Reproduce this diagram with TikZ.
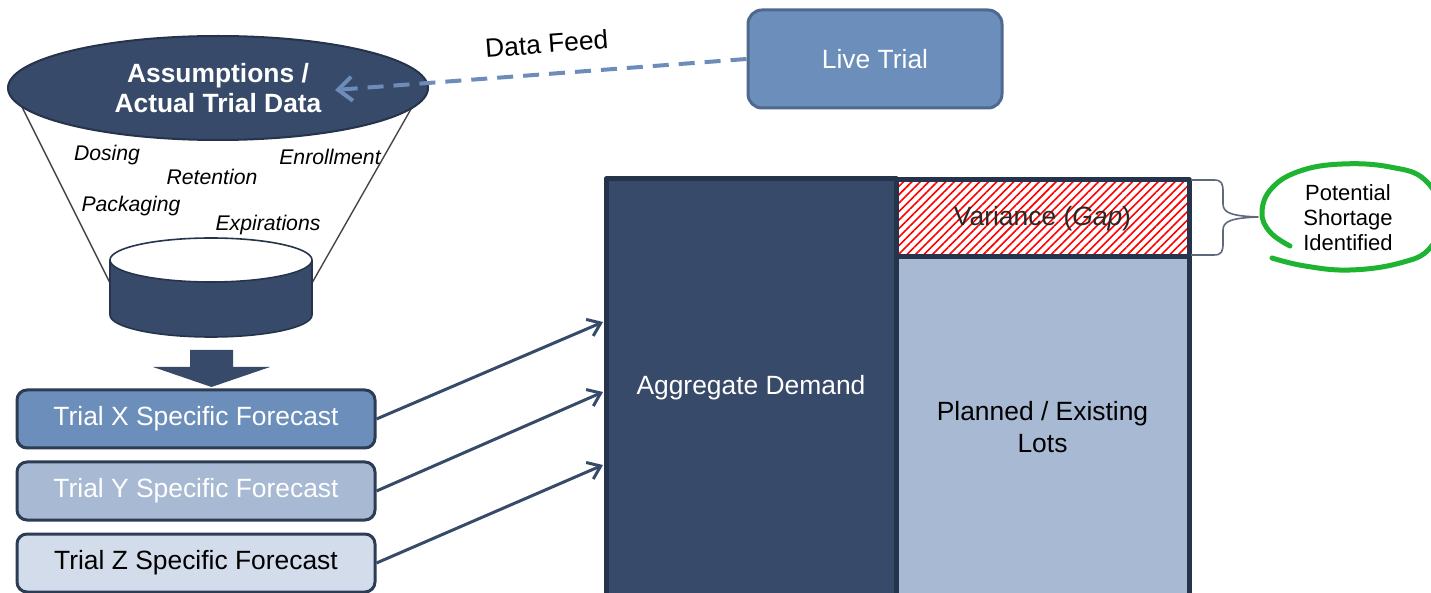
\documentclass[tikz,border=0pt]{standalone}
\usepackage{fontspec}
\setmainfont{Liberation Sans}
\usetikzlibrary{arrows.meta,patterns.meta,shapes.geometric}
\definecolor{navy}{RGB}{55,74,105}
\definecolor{framecol}{RGB}{37,52,75}
\definecolor{boxline}{RGB}{45,60,85}
\definecolor{midblue}{RGB}{108,142,186}
\definecolor{lightblue}{RGB}{168,185,211}
\definecolor{paleblue}{RGB}{211,220,234}
\definecolor{liveborder}{RGB}{78,104,143}
\definecolor{feedblue}{RGB}{110,140,185}
\definecolor{loopgreen}{RGB}{30,180,50}
\definecolor{funnelgray}{RGB}{70,70,70}
\definecolor{bracecol}{RGB}{95,105,125}
\begin{document}
\begin{tikzpicture}[x=0.5pt,y=-0.5pt,line join=round,
	big/.style={font=\fontsize{13.2}{16}\selectfont},
	factor/.style={font=\fontsize{10.6}{12.5}\selectfont\itshape},
	fcbox/.style={draw=boxline,line width=1.5pt,rounded corners=5pt,minimum width=179pt,minimum height=29pt,big},
	col/.style={draw=framecol,line width=2.5pt,minimum width=146.5pt,inner sep=0pt,align=center,big},
	feeder/.style={-{Straight Barb[length=6pt,width=9pt]},line width=1.5pt,draw=navy}]
	\useasboundingbox (0,0) rectangle (1431,593);
	% funnel and database
	\draw[funnelgray,line width=0.7pt] (20,103)--(110,283) (415,102)--(312,283);
	\node[ellipse,fill=navy,draw=framecol,line width=1pt,minimum width=210pt,minimum height=52pt,inner sep=0pt,
		text=white,align=center,font={\fontsize{13.2}{15}\selectfont\bfseries}] (assume) at (218,88) {Assumptions /\\Actual Trial Data};
	\draw[fill=navy,draw=framecol,line width=0.8pt] (211,315) ellipse [x radius=101,y radius=22];
	\fill[navy] (110,260) rectangle (312,315);
	\draw[framecol,line width=0.8pt] (110,260)--(110,315) (312,260)--(312,315);
	\draw[fill=white,draw=framecol,line width=0.8pt] (211,260) ellipse [x radius=101,y radius=22];
	\node[factor] (dose) at (107,155) {Dosing};
	\node[factor] (retain) at (212,177) {Retention};
	\node[factor] (enrol) at (330,157) {Enrollment};
	\node[factor] (pack) at (131,206) {Packaging};
	\node[factor] (expire) at (268,225) {Expirations};
	\fill[navy] (190,350)--(233,350)--(233,367)--(270,367)--(211.5,387)--(153,367)--(190,367)--cycle;
	% forecasts
	\node[fcbox,fill=midblue,text=white] (fx) at (196,419) {Trial X Specific Forecast};
	\node[fcbox,fill=lightblue,text=white] (fy) at (196,491) {Trial Y Specific Forecast};
	\node[fcbox,fill=paleblue] (fz) at (196,563) {Trial Z Specific Forecast};
	% demand vs supply
	\node[col,fill=navy,text=white,minimum width=145pt,minimum height=209pt] (agg) at (751,388) {Aggregate Demand};
	\node[col,fill=lightblue,minimum height=170.5pt] (lots) at (1042.5,427.5) {Planned / Existing\\Lots};
	\node[col,pattern={Lines[angle=45,distance=3pt,line width=0.8pt]},pattern color=red,text={rgb,255:red,40;green,40;blue,40},
		minimum height=38.5pt] (gap) at (1042.5,218.5) {Variance (\textit{Gap})};
	\coordinate (in1) at (603,322);
	\coordinate (in2) at (603,392);
	\coordinate (in3) at (603,465);
	\draw[feeder] (fx.east)--(in1);
	\draw[feeder] (fy.east)--(in2);
	\draw[feeder] (fz.east)--(in3);
	% live trial
	\node[draw=liveborder,line width=1.5pt,fill=midblue,rounded corners=7pt,minimum width=127pt,minimum height=49pt,
		text=white,big] (live) at (875,59) {Live Trial};
	\coordinate (feedend) at (335,90);
	\draw[feedblue,line width=2pt,dash pattern=on 8pt off 5pt,-{Straight Barb[length=7pt,width=12pt]}]
		(live.west)--node[sloped,above=6pt,pos=0.48,text=black,big] (feedlbl) {Data Feed} (feedend);
	% shortage
	\draw[bracecol,line width=0.8pt] (1191,180)--(1214,180) .. controls (1222,180) and (1223,184) .. (1223,192)--(1223,204)
		.. controls (1223,213) and (1232,216) .. (1258,217) .. controls (1232,218) and (1223,221) .. (1223,230)--(1223,243)
		.. controls (1223,251) and (1222,255) .. (1214,255)--(1191,255);
	\node[align=center,font=\fontsize{11}{12.5}\selectfont] (short) at (1348,218) {Potential\\Shortage\\Identified};
	\draw[loopgreen,line width=2.5pt,line cap=round] plot[smooth,tension=0.7] coordinates {(1290,246) (1270,232) (1262,212) (1272,188)
		(1300,171) (1342,164) (1390,167) (1425,180) (1442,215) (1430,248) (1400,263) (1350,270) (1305,266) (1272,258)};
\end{tikzpicture}
\end{document}
